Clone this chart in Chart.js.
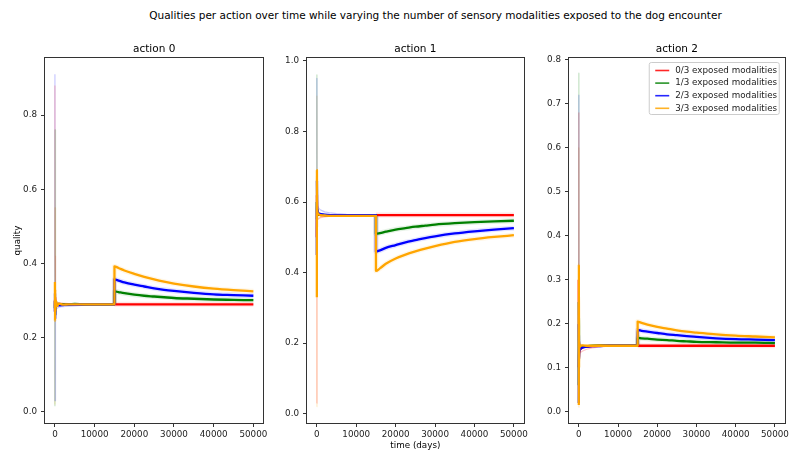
<!DOCTYPE html>
<html>
<head>
<meta charset="utf-8">
<script src="https://cdn.jsdelivr.net/npm/chart.js@4.4.1/dist/chart.umd.min.js"></script>
<style>
  body { margin: 0; background: #fff; }
  #fig { position: relative; width: 791px; height: 454px; font-family: 'DejaVu Sans'; }
  #suptitle { position: absolute; left: 40px; width: 791px; top: 9px; text-align: center; font-size: 10.5px; color: #000; white-space: nowrap; }
  .panel { position: absolute; top: 0; }
</style>
</head>
<body>
<div id="fig">
  <div id="suptitle">Qualities per action over time while varying the number of sensory modalities exposed to the dog encounter</div>
  <canvas id="action0" class="panel" width="270" height="454" style="left:0px"></canvas>
  <canvas id="action1" class="panel" width="260" height="454" style="left:270px"></canvas>
  <canvas id="action2" class="panel" width="261" height="454" style="left:530px"></canvas>
</div>
<script>
// time axis (days) for the mean curves and for the early single runs
const days = [0, 20, 60, 120, 250, 500, 1000, 2000, 3500, 5000, 7500, 10000, 12500, 14999,
              15000, 16000, 17500, 20000, 22500, 25000, 27500, 30000, 35000, 40000, 45000, 50000];
const runDays = [0, 20, 60, 120, 250, 500, 1000, 2000, 3500, 5000, 7500, 10000];

const modalities = ['0/3 exposed modalities', '1/3 exposed modalities', '2/3 exposed modalities', '3/3 exposed modalities'];
const colors = ['#ff0000', '#008000', '#0000ff', '#ffa500'];

const xTicks = [0, 10000, 20000, 30000, 40000, 50000];
const xTickLabels = ['0', '10000', '20000', '30000', '40000', '50000'];

// action 0
const a0Red    = [0.30, 0.27, 0.31, 0.285, 0.293, 0.289, 0.291, 0.290, 0.290, 0.290, 0.290, 0.290, 0.290, 0.290,
                  0.290, 0.290, 0.290, 0.290, 0.290, 0.290, 0.290, 0.290, 0.290, 0.290, 0.290, 0.290];
const a0Green  = [0.28, 0.30, 0.26, 0.295, 0.287, 0.291, 0.289, 0.290, 0.290, 0.291, 0.290, 0.290, 0.290, 0.290,
                  0.325, 0.323, 0.320, 0.316, 0.313, 0.311, 0.309, 0.307, 0.305, 0.303, 0.302, 0.301];
const a0Blue   = [0.27, 0.32, 0.25, 0.28, 0.284, 0.286, 0.287, 0.288, 0.289, 0.289, 0.290, 0.290, 0.290, 0.290,
                  0.357, 0.354, 0.349, 0.343, 0.338, 0.333, 0.329, 0.326, 0.321, 0.317, 0.315, 0.313];
const a0Orange = [0.35, 0.245, 0.33, 0.27, 0.30, 0.285, 0.292, 0.289, 0.290, 0.290, 0.290, 0.290, 0.290, 0.290,
                  0.392, 0.388, 0.381, 0.372, 0.364, 0.357, 0.351, 0.346, 0.338, 0.332, 0.328, 0.325];
const a0RunRed    = [0.88, 0.42, 0.30, 0.31, 0.297, 0.295, 0.294, 0.293, 0.292, 0.291, 0.290, 0.290];
const a0RunGreen  = [0.015, 0.76, 0.28, 0.30, 0.29, 0.297, 0.293, 0.292, 0.291, 0.291, 0.290, 0.290];
const a0RunBlue   = [0.91, 0.03, 0.20, 0.265, 0.275, 0.279, 0.282, 0.284, 0.285, 0.286, 0.288, 0.289];
const a0RunOrange = [0.02, 0.55, 0.25, 0.31, 0.28, 0.296, 0.288, 0.292, 0.289, 0.290, 0.290, 0.290];
const a0YTicks = [0, 0.2, 0.4, 0.6, 0.8];
const a0YLabels = ['0.0', '0.2', '0.4', '0.6', '0.8'];

// action 1
const a1Red    = [0.50, 0.62, 0.58, 0.57, 0.565, 0.564, 0.563, 0.563, 0.563, 0.563, 0.563, 0.563, 0.563, 0.563,
                  0.563, 0.563, 0.563, 0.563, 0.563, 0.563, 0.563, 0.563, 0.563, 0.563, 0.563, 0.563];
const a1Green  = [0.60, 0.55, 0.58, 0.57, 0.566, 0.565, 0.564, 0.563, 0.563, 0.563, 0.563, 0.563, 0.563, 0.563,
                  0.510, 0.512, 0.516, 0.522, 0.526, 0.530, 0.533, 0.536, 0.540, 0.543, 0.545, 0.547];
const a1Blue   = [0.45, 0.66, 0.59, 0.58, 0.572, 0.568, 0.566, 0.564, 0.563, 0.563, 0.563, 0.563, 0.563, 0.563,
                  0.460, 0.463, 0.470, 0.478, 0.486, 0.492, 0.498, 0.503, 0.511, 0.517, 0.522, 0.526];
const a1Orange = [0.33, 0.69, 0.60, 0.575, 0.568, 0.565, 0.563, 0.562, 0.561, 0.561, 0.561, 0.561, 0.561, 0.561,
                  0.405, 0.412, 0.425, 0.440, 0.451, 0.460, 0.468, 0.475, 0.487, 0.495, 0.501, 0.506];
const a1RunRed    = [0.03, 0.50, 0.53, 0.545, 0.550, 0.553, 0.556, 0.558, 0.560, 0.561, 0.562, 0.563];
const a1RunGreen  = [0.96, 0.62, 0.57, 0.565, 0.562, 0.562, 0.562, 0.562, 0.563, 0.563, 0.563, 0.563];
const a1RunBlue   = [0.95, 0.70, 0.62, 0.60, 0.59, 0.582, 0.577, 0.572, 0.569, 0.567, 0.565, 0.564];
const a1RunOrange = [0.02, 0.90, 0.58, 0.555, 0.552, 0.555, 0.558, 0.560, 0.561, 0.562, 0.562, 0.562];
const a1YTicks = [0, 0.2, 0.4, 0.6, 0.8, 1.0];
const a1YLabels = ['0.0', '0.2', '0.4', '0.6', '0.8', '1.0'];

// action 2
const a2Red    = [0.30, 0.10, 0.16, 0.135, 0.14, 0.143, 0.146, 0.148, 0.149, 0.150, 0.150, 0.150, 0.150, 0.150,
                  0.150, 0.150, 0.150, 0.150, 0.150, 0.150, 0.150, 0.150, 0.150, 0.150, 0.150, 0.150];
const a2Green  = [0.06, 0.25, 0.14, 0.15, 0.147, 0.148, 0.149, 0.149, 0.150, 0.150, 0.150, 0.150, 0.150, 0.150,
                  0.168, 0.167, 0.166, 0.164, 0.163, 0.161, 0.160, 0.159, 0.158, 0.157, 0.157, 0.156];
const a2Blue   = [0.02, 0.20, 0.12, 0.135, 0.14, 0.144, 0.146, 0.148, 0.149, 0.149, 0.150, 0.150, 0.150, 0.150,
                  0.186, 0.184, 0.182, 0.179, 0.176, 0.174, 0.172, 0.170, 0.167, 0.165, 0.164, 0.163];
const a2Orange = [0.015, 0.335, 0.10, 0.155, 0.148, 0.150, 0.151, 0.150, 0.150, 0.150, 0.150, 0.150, 0.150, 0.150,
                  0.205, 0.202, 0.198, 0.193, 0.189, 0.185, 0.182, 0.180, 0.176, 0.173, 0.171, 0.169];
const a2RunRed    = [0.68, 0.20, 0.13, 0.125, 0.13, 0.135, 0.138, 0.142, 0.145, 0.147, 0.149, 0.150];
const a2RunGreen  = [0.77, 0.15, 0.16, 0.155, 0.153, 0.152, 0.151, 0.150, 0.150, 0.150, 0.150, 0.150];
const a2RunBlue   = [0.72, 0.05, 0.13, 0.14, 0.142, 0.145, 0.147, 0.148, 0.149, 0.149, 0.150, 0.150];
const a2RunOrange = [0.01, 0.60, 0.16, 0.158, 0.155, 0.153, 0.152, 0.151, 0.150, 0.150, 0.150, 0.150];
const a2YTicks = [0, 0.1, 0.2, 0.3, 0.4, 0.5, 0.6, 0.7, 0.8];
const a2YLabels = ['0.0', '0.1', '0.2', '0.3', '0.4', '0.5', '0.6', '0.7', '0.8'];

Chart.defaults.font.family = "'DejaVu Sans'";
Chart.defaults.color = '#222';

function fade(hex, a) {
  const n = parseInt(hex.slice(1), 16);
  return `rgba(${n >> 16},${(n >> 8) & 255},${n & 255},${a})`;
}

function pts(xs, ys) {
  return xs.map((x, i) => ({x: x, y: ys[i]}));
}

function buildDatasets(means, runs) {
  const out = [];
  means.forEach((vals, i) => {
    out.push({label: modalities[i], data: pts(days, vals), borderColor: colors[i], borderWidth: 2.3,
              cubicInterpolationMode: 'monotone', order: 3 - i});
    out.push({label: modalities[i] + ' spread', data: pts(days.slice(13), vals.slice(13)), borderColor: fade(colors[i], 0.1),
              borderWidth: 5, cubicInterpolationMode: 'monotone', order: 13 - i});
  });
  runs.forEach((vals, i) => {
    out.push({label: modalities[i] + ' run', data: pts(runDays, vals), borderColor: fade(colors[i], 0.22), borderWidth: 1.2, order: 20});
  });
  return out;
}

// axes frame on all four sides
const frame = {
  id: 'frame',
  afterDraw(chart) {
    const {ctx, chartArea: a} = chart;
    ctx.save();
    ctx.strokeStyle = '#333';
    ctx.lineWidth = 1;
    const l = Math.round(a.left) - 0.5, t = Math.round(a.top) - 0.5;
    const r = Math.round(a.right) + 0.5, b = Math.round(a.bottom) + 0.5;
    ctx.strokeRect(l, t, r - l, b - t);
    ctx.restore();
  }
};

// subplot title centred over the plot area
const panelTitle = {
  id: 'panelTitle',
  afterDraw(chart, args, opts) {
    const {ctx, chartArea: a} = chart;
    ctx.save();
    ctx.font = "10.5px 'DejaVu Sans'";
    ctx.fillStyle = '#000';
    ctx.textAlign = 'center';
    ctx.textBaseline = 'middle';
    ctx.fillText(opts.text, (a.left + a.right) / 2, a.top - 8.7);
    ctx.restore();
  }
};

const insideLegend = {
  id: 'insideLegend',
  afterDraw(chart, args, opts) {
    if (!opts.show) return;
    const {ctx, chartArea: a} = chart;
    const w = 130, h = 52;
    const x = a.right - 5.5 - w, y = a.top + 4.5;
    ctx.save();
    ctx.fillStyle = 'rgba(255,255,255,0.8)';
    ctx.strokeStyle = '#cccccc';
    ctx.lineWidth = 1;
    ctx.beginPath();
    ctx.roundRect(x, y, w, h, 2);
    ctx.fill();
    ctx.stroke();
    ctx.font = "8.75px 'DejaVu Sans'";
    ctx.textBaseline = 'middle';
    ctx.fillStyle = '#222';
    modalities.forEach((m, i) => {
      const cy = y + 8 + i * 12.6;
      ctx.strokeStyle = fade(colors[i], 0.85);
      ctx.lineWidth = 1.6;
      ctx.beginPath();
      ctx.moveTo(x + 6, cy);
      ctx.lineTo(x + 20, cy);
      ctx.stroke();
      ctx.fillText(m, x + 26, cy);
    });
    ctx.restore();
  }
};

function makePanel(id, title, means, runs, yMin, yMax, yTicks, yLabels, yWidth, padRight, extra) {
  new Chart(document.getElementById(id), {
    type: 'line',
    data: {datasets: buildDatasets(means, runs)},
    plugins: [frame, panelTitle, insideLegend],
    options: {
      responsive: false,
      animation: false,
      devicePixelRatio: 1,
      layout: {padding: {top: 58, left: 0, right: padRight, bottom: 0}},
      elements: {
        point: {radius: 0},
        line: {tension: 0, borderJoinStyle: 'round', fill: false}
      },
      plugins: {
        legend: {display: false},
        tooltip: {enabled: false},
        title: {display: false},
        panelTitle: {text: title},
        insideLegend: {show: !!extra.legend}
      },
      scales: {
        x: {
          type: 'linear',
          min: -2500,
          max: 52500,
          afterBuildTicks: s => { s.ticks = xTicks.map(v => ({value: v})); },
          afterFit: s => { s.height = 31; },
          grid: {display: true, drawOnChartArea: false, drawTicks: true, tickLength: 4, tickColor: '#333'},
          border: {display: false},
          ticks: {font: {size: 8.75}, padding: 2, maxRotation: 0, callback: (v, i) => xTickLabels[i]},
          title: {display: !!extra.xTitle, text: extra.xTitle || '', color: '#000', font: {size: 8.75}, padding: {top: 0, bottom: 3}}
        },
        y: {
          type: 'linear',
          min: yMin,
          max: yMax,
          afterBuildTicks: s => { s.ticks = yTicks.map(v => ({value: v})); },
          afterFit: s => { s.width = yWidth; },
          grid: {display: true, drawOnChartArea: false, drawTicks: true, tickLength: 4, tickColor: '#333'},
          border: {display: false},
          ticks: {font: {size: 8.75}, padding: 4, callback: (v, i) => yLabels[i]},
          title: {display: !!extra.yTitle, text: extra.yTitle || '', color: '#000', font: {size: 8.75}, padding: {top: 12, bottom: 0}}
        }
      }
    }
  });
}

makePanel('action0', 'action 0', [a0Red, a0Green, a0Blue, a0Orange], [a0RunRed, a0RunGreen, a0RunBlue, a0RunOrange],
  -0.030, 0.954, a0YTicks, a0YLabels, 45, 6.7, {yTitle: 'quality'});
makePanel('action1', 'action 1', [a1Red, a1Green, a1Blue, a1Orange], [a1RunRed, a1RunGreen, a1RunBlue, a1RunOrange],
  -0.026, 1.008, a1YTicks, a1YLabels, 37, 4.3, {xTitle: 'time (days)'});
makePanel('action2', 'action 2', [a2Red, a2Green, a2Blue, a2Orange], [a2RunRed, a2RunGreen, a2RunBlue, a2RunOrange],
  -0.0257, 0.8045, a2YTicks, a2YLabels, 39, 3.3, {legend: true});
</script>
</body>
</html>
